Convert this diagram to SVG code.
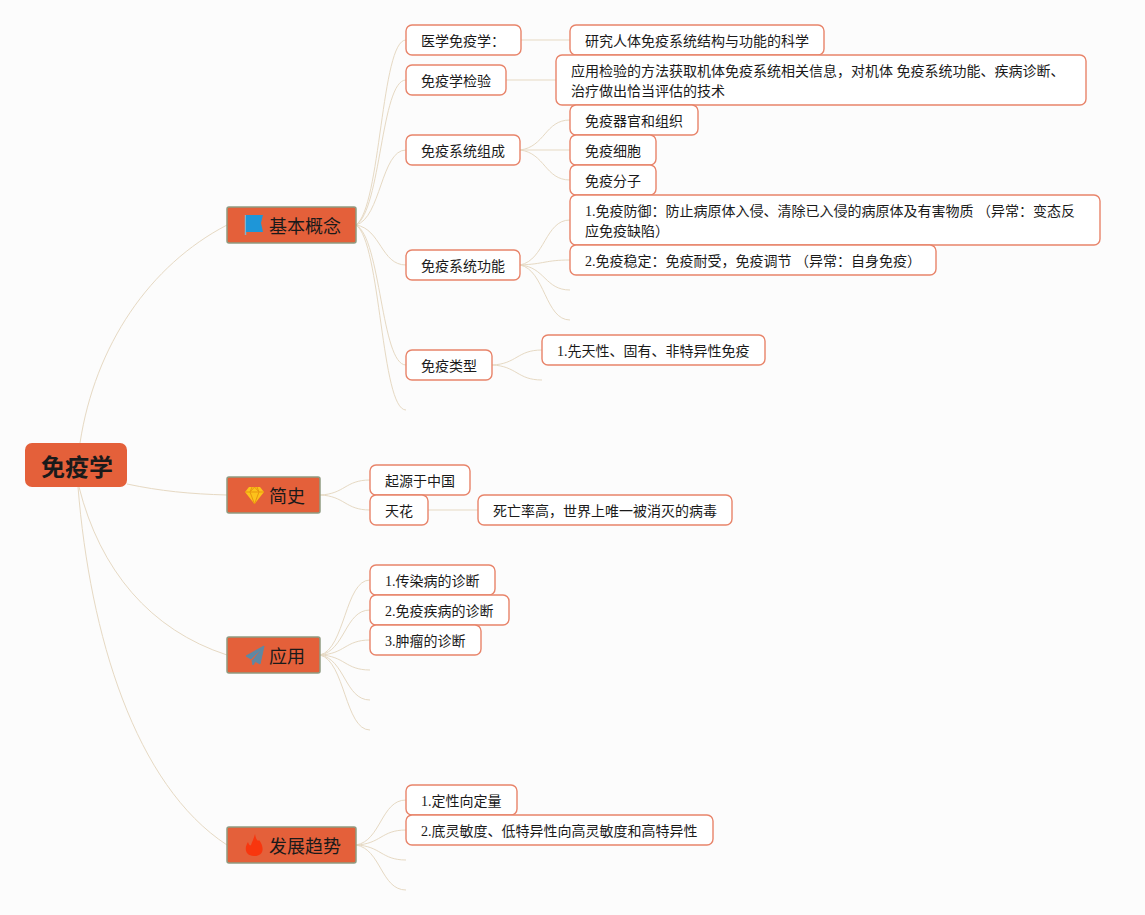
<svg xmlns="http://www.w3.org/2000/svg" width="1145" height="915" viewBox="0 0 1145 915">
<style>
text{font-family:"Liberation Serif","Noto Sans CJK SC",sans-serif;fill:#1a1a1a;font-size:14px}
.n rect{fill:#fff;stroke:#e8846a;stroke-width:1.4}
.t rect{fill:#e4603a;stroke:#8f9a80;stroke-width:1.5}
.t text{font-size:18px}
#connectors path{fill:none;stroke:#e6d9c3;stroke-width:1}
</style>
<rect width="1145" height="915" fill="#fcfcfc"/>
<g id="connectors">
<path d="M80 443C95 345 150 265 227 225"/>
<path d="M127 484C160 491 190 494 227 495"/>
<path d="M79 487C100 570 150 630 227 655"/>
<path d="M78 487C90 635 135 785 227 845"/>
<path d="M356 225C381 207 381 40 406 40"/>
<path d="M356 225C381 210 381 80 406 80"/>
<path d="M356 225C381 218 381 150 406 150"/>
<path d="M356 225C381 229 381 265 406 265"/>
<path d="M356 225C381 238 381 365 406 365"/>
<path d="M356 225C381 242 381 410 406 410"/>
<path d="M521 40H570"/>
<path d="M506 80H556"/>
<path d="M520 150C545 147 545 120 570 120"/>
<path d="M520 150H570"/>
<path d="M520 150C545 153 545 180 570 180"/>
<path d="M520 265C545 260 545 220 570 220"/>
<path d="M520 265C545 264 545 260 570 260"/>
<path d="M520 265C545 267 545 290 570 290"/>
<path d="M520 265C545 270 545 320 570 320"/>
<path d="M492 365C517 364 517 350 542 350"/>
<path d="M492 365C517 366 517 380 542 380"/>
<path d="M320 495C345 494 345 480 370 480"/>
<path d="M320 495C345 496 345 510 370 510"/>
<path d="M428 510H478"/>
<path d="M320 655C345 649 345 580 370 580"/>
<path d="M320 655C345 651 345 610 370 610"/>
<path d="M320 655C345 654 345 640 370 640"/>
<path d="M320 655C345 656 345 670 370 670"/>
<path d="M320 655C345 659 345 700 370 700"/>
<path d="M320 655C345 661 345 730 370 730"/>
<path d="M356 845C381 841 381 800 406 800"/>
<path d="M356 845C381 844 381 830 406 830"/>
<path d="M356 845C381 846 381 860 406 860"/>
<path d="M356 845C381 849 381 890 406 890"/>
</g>
<g id="root"><rect x="25" y="443" width="102" height="44" rx="7" fill="#e4603a"/><text x="77" y="476" text-anchor="middle" style="font-size:24px;font-weight:700">免疫学</text></g>

<g id="t1" class="t"><rect x="227" y="207" width="129" height="36" rx="2"/>
<path d="M245.500 215V235" stroke="#7fb4cf" stroke-width="1.500"/><path d="M246 215H263L261 223L263 232H246Z" fill="#1e96d8"/><text x="269" y="233">基本概念</text></g>
<g id="t2" class="t"><rect x="227" y="477" width="93" height="36" rx="2"/>
<path d="M249 487H260L264 492L254.500 504L245 492Z" fill="#fcc21b"/><path d="M245 492H264M250 492L254.500 504L259 492M252 487L250 492L254.500 487L259 492L257 487" fill="none" stroke="#e8950f"/><text x="269" y="503">简史</text></g>
<g id="t3" class="t"><rect x="227" y="637" width="93" height="36" rx="2"/>
<path d="M264 646L246 656L251 659ZM264 646L253 660L260 664ZM252 660L253 665L255 662Z" fill="#5f88a3" stroke="#5f88a3"/><text x="269" y="663">应用</text></g>
<g id="t4" class="t"><rect x="227" y="827" width="129" height="36" rx="2"/>
<path d="M255 834C256 840 258 842 259 840C264 846 265 856 254 856C245 856 244 848 248 842C249 845 250 846 251 845C252 842 254 838 255 834Z" fill="#f8360e"/><text x="269" y="853">发展趋势</text></g>

<g id="a1" class="n"><rect x="406" y="25" width="115" height="30" rx="6"/><text x="421" y="46">医学免疫学：</text></g>
<g id="a2" class="n"><rect x="570" y="25" width="254" height="30" rx="6"/><text x="585" y="46">研究人体免疫系统结构与功能的科学</text></g>
<g id="b1" class="n"><rect x="406" y="65" width="100" height="30" rx="6"/><text x="421" y="86">免疫学检验</text></g>
<g id="b2" class="n"><rect x="556" y="55" width="530" height="50" rx="6"/><text x="571" y="76">应用检验的方法获取机体免疫系统相关信息，对机体 免疫系统功能、疾病诊断、</text><text x="571" y="96">治疗做出恰当评估的技术</text></g>
<g id="c1" class="n"><rect x="406" y="135" width="114" height="30" rx="6"/><text x="421" y="156">免疫系统组成</text></g>
<g id="c2" class="n"><rect x="570" y="105" width="128" height="30" rx="6"/><text x="585" y="126">免疫器官和组织</text></g>
<g id="c3" class="n"><rect x="570" y="135" width="86" height="30" rx="6"/><text x="585" y="156">免疫细胞</text></g>
<g id="c4" class="n"><rect x="570" y="165" width="86" height="30" rx="6"/><text x="585" y="186">免疫分子</text></g>
<g id="d1" class="n"><rect x="406" y="250" width="114" height="30" rx="6"/><text x="421" y="271">免疫系统功能</text></g>
<g id="d2" class="n"><rect x="570" y="195" width="530" height="50" rx="6"/><text x="585" y="216">1.免疫防御：防止病原体入侵、清除已入侵的病原体及有害物质 （异常：变态反</text><text x="585" y="236">应免疫缺陷）</text></g>
<g id="d3" class="n"><rect x="570" y="245" width="366" height="30" rx="6"/><text x="585" y="266">2.免疫稳定：免疫耐受，免疫调节 （异常：自身免疫）</text></g>
<g id="e1" class="n"><rect x="406" y="350" width="86" height="30" rx="6"/><text x="421" y="371">免疫类型</text></g>
<g id="e2" class="n"><rect x="542" y="335" width="223" height="30" rx="6"/><text x="557" y="356">1.先天性、固有、非特异性免疫</text></g>
<g id="f1" class="n"><rect x="370" y="465" width="100" height="30" rx="6"/><text x="385" y="486">起源于中国</text></g>
<g id="f2" class="n"><rect x="370" y="495" width="58" height="30" rx="6"/><text x="385" y="516">天花</text></g>
<g id="f3" class="n"><rect x="478" y="495" width="254" height="30" rx="6"/><text x="493" y="516">死亡率高，世界上唯一被消灭的病毒</text></g>
<g id="g1" class="n"><rect x="370" y="565" width="125" height="30" rx="6"/><text x="385" y="586">1.传染病的诊断</text></g>
<g id="g2" class="n"><rect x="370" y="595" width="139" height="30" rx="6"/><text x="385" y="616">2.免疫疾病的诊断</text></g>
<g id="g3" class="n"><rect x="370" y="625" width="111" height="30" rx="6"/><text x="385" y="646">3.肿瘤的诊断</text></g>
<g id="h1" class="n"><rect x="406" y="785" width="111" height="30" rx="6"/><text x="421" y="806">1.定性向定量</text></g>
<g id="h2" class="n"><rect x="406" y="815" width="307" height="30" rx="6"/><text x="421" y="836">2.底灵敏度、低特异性向高灵敏度和高特异性</text></g>
</svg>
